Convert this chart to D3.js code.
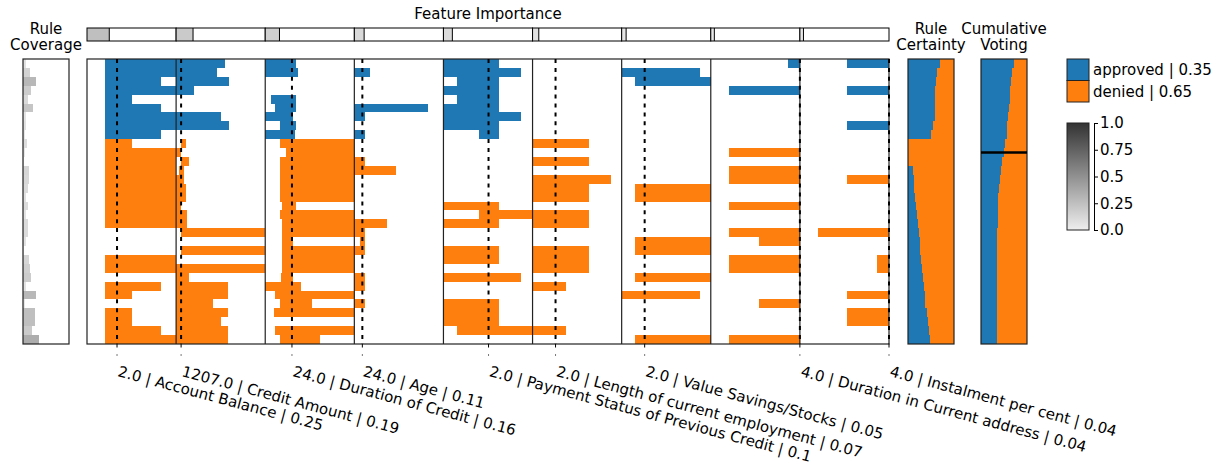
<!DOCTYPE html>
<html>
<head>
<meta charset="utf-8">
<script src="https://cdn.jsdelivr.net/npm/d3@7"></script>
<style>
body { margin: 0; background: #fff; }
svg text { font-family: "DejaVu Sans", sans-serif; fill: #000; }
.bars rect { shape-rendering: crispEdges; }
</style>
</head>
<body>
<svg id="chart" width="1221" height="467"></svg>
<script>
// feature columns, left to right
const features = ['Account Balance', 'Credit Amount', 'Duration of Credit', 'Age',
	'Payment Status of Previous Credit', 'Length of current employment',
	'Value Savings/Stocks', 'Duration in Current address', 'Instalment per cent'];
const featureValues = ['2.0', '1207.0', '24.0', '24.0', '2.0', '2.0', '2.0', '4.0', '4.0'];
const importances = [0.25, 0.19, 0.16, 0.11, 0.1, 0.07, 0.05, 0.04, 0.04];
// instance value of each feature, on a 0..1 normalised feature range
const instanceLevel = [0.337, 0.056, 0.3, 0.09, 0.506, 0.258, 0.258, 1, 1];

const classes = ['approved', 'denied'];
const classShares = [0.35, 0.65];

// predicted class of each rule (0 approved, 1 denied)
const ruleClass = [0, 0, 0, 0, 0, 0, 0, 0, 0,
	1, 1, 1, 1, 1, 1, 1, 1, 1, 1, 1, 1, 1, 1, 1, 1, 1, 1, 1, 1, 1, 1, 1];
const coverage = [0.07, 0.145, 0.29, 0.18, 0.11, 0.22, 0.06, 0.07, 0.04, 0.09, 0.04, 0.03,
	0.13, 0.12, 0.1, 0.07, 0.1, 0.06, 0.1, 0.1, 0.06, 0.03, 0.13, 0.16,
	0.18, 0.06, 0.29, 0.04, 0.25, 0.25, 0.19, 0.35];
// share of "approved" in each rule
const certainty = [0.7, 0.63, 0.61, 0.59, 0.59, 0.59, 0.58, 0.54, 0.49, 0, 0, 0,
	0.1, 0.12, 0.14, 0.16, 0.17, 0.2, 0.21, 0.23, 0.25, 0.27, 0.29, 0.3,
	0.32, 0.34, 0.36, 0.38, 0.41, 0.43, 0.45, 0.48];
// cumulative "approved" vote after each rule
const voting = [0.71, 0.67, 0.65, 0.64, 0.62, 0.61, 0.59, 0.57, 0.56, 0.52, 0.5, 0.46,
	0.43, 0.41, 0.4, 0.38, 0.38, 0.37, 0.36, 0.355, 0.355, 0.355, 0.355, 0.35,
	0.35, 0.35, 0.35, 0.35, 0.35, 0.345, 0.345, 0.34];
const votingCut = 10;

// rule intervals per feature: [rule, low, high] on the 0..1 feature range
const accountBalance = [[0, .2, 1], [1, .2, 1], [2, .2, .83], [3, .2, 1], [4, .2, .5], [5, .2, .83],
	[6, .2, 1], [7, .2, 1], [8, .2, .83], [9, .2, .5], [10, .2, 1], [11, .2, 1], [12, .2, 1],
	[13, .2, 1], [14, .2, 1], [15, .2, 1], [16, .2, 1], [17, .2, 1], [18, .2, 1], [22, .2, 1],
	[23, .2, 1], [25, .2, .83], [26, .2, .5], [28, .2, .5], [29, .2, .5], [30, .2, .83], [31, .2, 1]];
const creditAmount = [[0, 0, .55], [1, 0, .46], [2, 0, .59], [3, 0, .2], [6, 0, .5], [7, 0, .59],
	[9, .05, .11], [10, 0, .06], [11, .05, .14], [12, .03, .09], [13, 0, .09], [14, 0, .11],
	[15, 0, .11], [16, 0, .06], [17, 0, .12], [18, 0, .12], [19, .05, 1], [21, .05, 1], [23, 0, 1],
	[24, 0, .14], [25, 0, .58], [26, 0, .58], [27, 0, .41], [28, 0, .58], [29, 0, .5],
	[30, 0, .58], [31, 0, .58]];
const durationCredit = [[0, 0, .34], [1, 0, .37], [4, .07, .34], [5, .11, .34], [6, 0, .31],
	[7, .17, .34], [8, 0, .33], [9, .17, 1], [10, .23, 1], [11, .17, 1], [12, .17, 1], [13, .17, 1],
	[14, .17, 1], [15, .17, 1], [16, .19, .34], [17, .17, 1], [18, .19, 1], [19, .19, 1],
	[20, .19, .31], [21, .19, 1], [22, .19, 1], [23, .19, 1], [24, .18, .31], [25, 0, .4],
	[26, .11, 1], [27, .17, .53], [28, .1, 1], [30, .11, 1], [31, .17, .62]];
const age = [[1, 0, .18], [5, 0, .83], [6, 0, .12], [8, 0, .12], [11, 0, .12], [12, 0, .47],
	[18, 0, .37], [19, 0, .12], [20, .06, .12], [21, 0, .12], [24, 0, .12], [25, 0, .12], [27, 0, .12]];
const paymentStatus = [[0, 0, .62], [1, 0, .87], [2, .15, .62], [3, 0, .62], [4, .15, .62],
	[5, 0, .62], [6, 0, .87], [7, 0, .62], [8, .4, .62], [16, 0, .62], [17, .4, 1], [18, 0, .62],
	[21, 0, .62], [22, 0, .62], [24, 0, .87], [27, 0, .62], [28, 0, .62], [29, 0, .62], [30, .15, 1]];
const employment = [[9, 0, .63], [11, 0, .63], [13, 0, .88], [14, 0, .63], [15, 0, .63],
	[17, 0, .63], [18, 0, .63], [21, 0, .63], [22, 0, .63], [23, 0, .63], [25, 0, .37], [30, 0, .37]];
const savings = [[1, 0, .88], [2, .15, 1], [14, .15, 1], [15, .15, 1], [20, .15, 1], [21, .15, 1],
	[24, .15, 1], [26, 0, .88], [31, .15, 1]];
const residence = [[0, .87, 1], [3, .2, 1], [10, .2, 1], [12, .2, 1], [13, .2, 1], [16, .2, 1],
	[19, .2, 1], [20, .54, 1], [22, .2, 1], [23, .2, 1], [27, .54, 1], [31, .2, 1]];
const instalment = [[0, .53, 1], [3, .53, 1], [7, .53, 1], [13, .53, 1], [19, .2, 1], [22, .87, 1],
	[23, .87, 1], [26, .53, 1], [28, .53, 1], [29, .53, 1]];

const intervals = [accountBalance, creditAmount, durationCredit, age, paymentStatus,
	employment, savings, residence, instalment];

const blue = '#1f77b4';
const orange = '#ff7f0e';
const classColor = [blue, orange];

const svg = d3.select('#chart');

const plotTop = 59, plotBottom = 344;
const y = d3.scaleBand().domain(d3.range(ruleClass.length)).range([plotTop, plotBottom]);
const panel = d3.scaleBand().domain(d3.range(features.length)).range([87, 889]);
const gray = d3.scaleLinear().domain([0, 1]).range(['#eeeeee', '#333333']);

function featureX(i) {
	return d3.scaleLinear().domain([0, 1]).range([panel(i), panel(i) + panel.bandwidth()]);
}

// ---- feature importance header
const head = svg.append('g');
features.forEach((f, i) => {
	const x = featureX(i);
	head.append('rect')
		.attr('x', x(0)).attr('y', 28)
		.attr('width', x(importances[i]) - x(0)).attr('height', 13)
		.attr('fill', gray(importances[i]));
	head.append('line')
		.attr('x1', x(importances[i])).attr('x2', x(importances[i]))
		.attr('y1', 28).attr('y2', 41)
		.attr('stroke', '#000');
	head.append('rect')
		.attr('x', x(0)).attr('y', 28)
		.attr('width', panel.bandwidth()).attr('height', 13)
		.attr('fill', 'none').attr('stroke', '#000');
});
svg.append('text').attr('x', 488).attr('y', 19)
	.attr('text-anchor', 'middle').style('font-size', '15px')
	.text('Feature Importance');

// ---- rule bars per feature
intervals.forEach((rows, i) => {
	const x = featureX(i);
	svg.append('g').attr('class', 'bars').selectAll('rect')
		.data(rows)
		.enter()
		.append('rect')
		.attr('x', d => x(d[1]))
		.attr('y', d => y(d[0]))
		.attr('width', d => x(d[2]) - x(d[1]))
		.attr('height', y.bandwidth())
		.attr('fill', d => classColor[ruleClass[d[0]]]);
});

// panel separators and frame
svg.append('g').selectAll('line')
	.data(d3.range(1, features.length))
	.enter()
	.append('line')
	.attr('x1', d => panel(d)).attr('x2', d => panel(d))
	.attr('y1', plotTop).attr('y2', plotBottom)
	.attr('stroke', '#222').attr('stroke-width', 1.2);
svg.append('rect')
	.attr('x', panel(0)).attr('y', plotTop)
	.attr('width', panel.range()[1] - panel(0)).attr('height', plotBottom - plotTop)
	.attr('fill', 'none').attr('stroke', '#222').attr('stroke-width', 1.2);

// instance value lines, ticks and labels
instanceLevel.forEach((v, i) => {
	const xv = featureX(i)(v);
	svg.append('line')
		.attr('x1', xv).attr('x2', xv).attr('y1', plotTop).attr('y2', plotBottom)
		.attr('stroke', '#000').attr('stroke-width', 2)
		.attr('stroke-dasharray', '4 4.9');
	svg.append('line')
		.attr('x1', xv).attr('x2', xv).attr('y1', plotBottom).attr('y2', plotBottom + 3.5)
		.attr('stroke', '#000');
	svg.append('line')
		.attr('x1', xv).attr('x2', xv).attr('y1', 354).attr('y2', 356)
		.attr('stroke', '#777');
	svg.append('text')
		.attr('transform', `translate(${xv},376) rotate(15)`)
		.style('font-size', '15px')
		.text(`${featureValues[i]} | ${features[i]} | ${importances[i]}`);
});

// ---- rule coverage
const cov = d3.scaleLinear().domain([0, 1]).range([23, 69]);
svg.append('g').attr('class', 'bars').selectAll('rect')
	.data(coverage)
	.enter()
	.append('rect')
	.attr('x', cov(0))
	.attr('y', (d, i) => y(i))
	.attr('width', d => cov(d) - cov(0))
	.attr('height', y.bandwidth())
	.attr('fill', d => gray(d));
svg.append('rect')
	.attr('x', cov(0)).attr('y', plotTop).attr('width', cov(1) - cov(0)).attr('height', plotBottom - plotTop)
	.attr('fill', 'none').attr('stroke', '#222').attr('stroke-width', 1.2);

function titleTwoLines(cx, a, b) {
	svg.append('text').attr('x', cx).attr('y', 34).attr('text-anchor', 'middle')
		.style('font-size', '15px').text(a);
	svg.append('text').attr('x', cx).attr('y', 50).attr('text-anchor', 'middle')
		.style('font-size', '15px').text(b);
}
titleTwoLines(46, 'Rule', 'Coverage');

// ---- certainty and cumulative voting
function splitColumn(values, x0, x1) {
	const s = d3.scaleLinear().domain([0, 1]).range([x0, x1]);
	const g = svg.append('g').attr('class', 'bars');
	g.selectAll('.o')
		.data(values)
		.enter()
		.append('rect')
		.attr('x', s(0)).attr('y', (d, i) => y(i))
		.attr('width', s(1) - s(0)).attr('height', y.bandwidth())
		.attr('fill', orange);
	g.selectAll('.b')
		.data(values)
		.enter()
		.append('rect')
		.attr('x', s(0)).attr('y', (d, i) => y(i))
		.attr('width', d => s(d) - s(0)).attr('height', y.bandwidth())
		.attr('fill', blue);
	svg.append('rect')
		.attr('x', x0).attr('y', plotTop).attr('width', x1 - x0).attr('height', plotBottom - plotTop)
		.attr('fill', 'none').attr('stroke', '#222').attr('stroke-width', 1.2);
	return s;
}
splitColumn(certainty, 908, 954);
titleTwoLines(931, 'Rule', 'Certainty');
const vs = splitColumn(voting, 981, 1027);
svg.append('line')
	.attr('x1', vs(0)).attr('x2', vs(1))
	.attr('y1', y(votingCut) + y.bandwidth() / 2).attr('y2', y(votingCut) + y.bandwidth() / 2)
	.attr('stroke', '#000').attr('stroke-width', 2.5);
titleTwoLines(1004, 'Cumulative', 'Voting');

// ---- class legend
classes.forEach((c, i) => {
	svg.append('rect')
		.attr('x', 1067).attr('y', 59 + i * 21.5)
		.attr('width', 22).attr('height', 21.5)
		.attr('fill', classColor[i]).attr('stroke', '#222');
	svg.append('text')
		.attr('x', 1093).attr('y', 75 + i * 21.5)
		.style('font-size', '15px')
		.text(`${c} | ${classShares[i]}`);
});

// ---- coverage colour bar
const grad = svg.append('defs').append('linearGradient')
	.attr('id', 'cbar').attr('x1', 0).attr('x2', 0).attr('y1', 1).attr('y2', 0);
grad.append('stop').attr('offset', 0).attr('stop-color', gray(0));
grad.append('stop').attr('offset', 1).attr('stop-color', gray(1));
svg.append('rect')
	.attr('x', 1067).attr('y', 123).attr('width', 22).attr('height', 107)
	.attr('fill', 'url(#cbar)').attr('stroke', '#222');
const cb = d3.scaleLinear().domain([0, 1]).range([230, 123]);
const cbAxis = svg.append('g')
	.attr('transform', 'translate(1094,0)')
	.call(d3.axisRight(cb)
		.tickValues([0, 0.25, 0.5, 0.75, 1])
		.tickFormat(d => ({0: '0.0', 0.25: '0.25', 0.5: '0.5', 0.75: '0.75', 1: '1.0'})[d])
		.tickSize(4).tickPadding(2));
cbAxis.selectAll('text').style('font-size', '15px').attr('font-family', null);
cbAxis.selectAll('path, line').attr('stroke', '#000');
</script>
</body>
</html>
